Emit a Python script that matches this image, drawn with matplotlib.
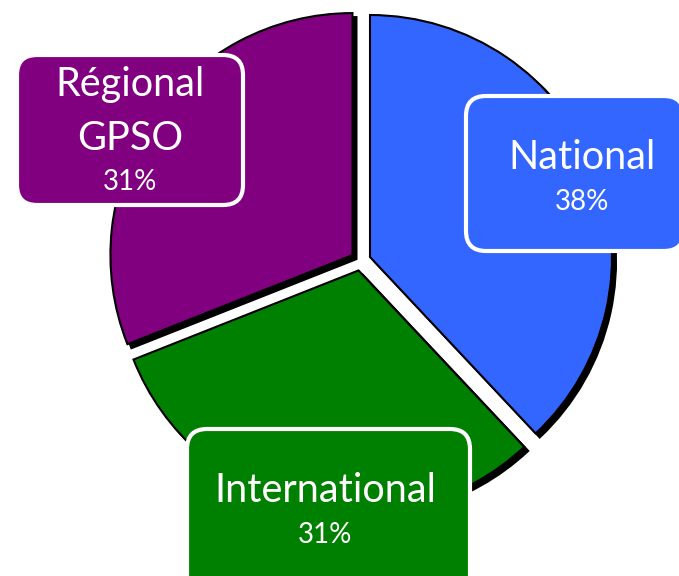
import matplotlib.pyplot as plt
from matplotlib.patches import FancyBboxPatch

# data
labels = ["National", "International", "Régional\nGPSO"]
values = [38, 31, 31]
colors = ["#3366FF", "#008000", "#800080"]

W, H = 679, 576

fig = plt.figure(figsize=(W / 100, H / 100), dpi=100)
ax = fig.add_axes([0, 0, 1, 1])

# pie in pixel coordinates (y up); explode is in data units here
ax.pie(values, colors=colors, startangle=90, counterclock=False,
       center=(360.7, H - 260.7), radius=242, explode=[10] * 3,
       shadow={'ox': 2.9, 'oy': -2.9, 'shade': 1.0, 'alpha': 1.0},
       wedgeprops=dict(edgecolor="black", linewidth=1.5))

ax.set_xlim(0, W)
ax.set_ylim(0, H)
ax.set_aspect('equal')
ax.axis('off')

# label boxes: (x0, y0_top, x1, y1_bottom) in pixels, text centre x, baselines
boxes = [
    (466, 96, 684, 251, 582, [169], 210),
    (187, 429, 470, 600, 325, [502], 543),
    (17, 55, 243, 205, 130, [96, 150], 190),
]

for (x0, y0, x1, y1, tx, bases, pb), lab, val, col in zip(boxes, labels, values, colors):
    box = FancyBboxPatch((x0, H - y1), x1 - x0, y1 - y0,
                         boxstyle="round,pad=0,rounding_size=20",
                         facecolor=col, edgecolor="white", linewidth=3,
                         zorder=5)
    ax.add_patch(box)
    for line, b in zip(lab.split("\n"), bases):
        ax.text(tx, H - b, line, ha='center', va='baseline', color='white',
                fontsize=28.5, family='Lato', zorder=6)
    ax.text(tx, H - pb, f"{val}%", ha='center', va='baseline', color='white',
            fontsize=20, family='Lato', zorder=6)

fig.savefig("out.png", dpi=100)
